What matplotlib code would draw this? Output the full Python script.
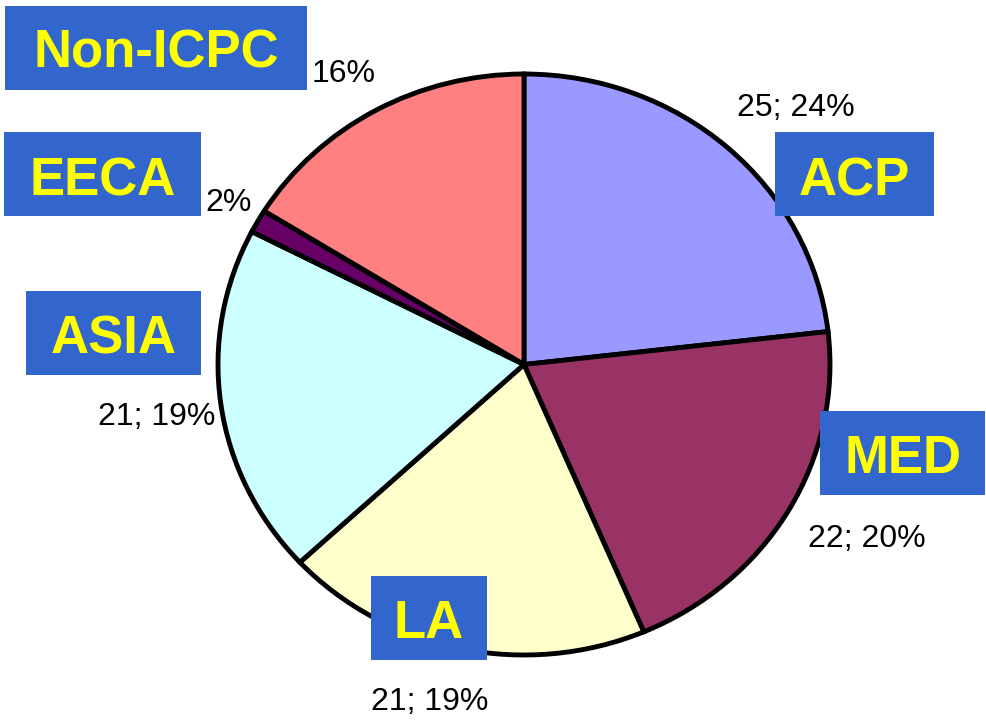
"""Pie chart of participants by region (ICPC groups)."""

import matplotlib

matplotlib.use("Agg")
import matplotlib.pyplot as plt
from matplotlib.patches import Rectangle

# data, clockwise from 12 o'clock
regions = ["ACP", "MED", "LA", "ASIA", "EECA", "Non-ICPC"]
values = [25, 22, 21, 21, 1.4, 17.4]
value_labels = ["25; 24%", "22; 20%", "21; 19%", "21; 19%", "2%", "16%"]
colors = ["#9999FF", "#993366", "#FFFFCC", "#CCFFFF", "#660066", "#FF8080"]

# layout in pixels (top-left origin)
W, H = 987, 720
CX, CY, RX, RY = 524, 364.5, 306, 290.5
# region boxes: (x0, y0, x1, y1, text baseline)
boxes = [
    (775, 132, 934, 216, 195),
    (820, 411, 985, 495, 473),
    (371, 576, 487, 660, 638),
    (26, 291, 201, 375, 353),
    (4, 132, 201, 216, 195),
    (5, 6, 307, 90, 68),
]
# value labels: (center x, baseline y)
label_pos = [(795.5, 116), (867, 547), (429.5, 710), (156.5, 425), (228.5, 211), (344, 82)]

BOX_COLOR = "#3366CC"
TEXT_COLOR = "#FFFF00"

fig = plt.figure(figsize=(W / 100, H / 100), dpi=100)

# pie axes: unit radius, stretched to RX x RY pixels
ax = fig.add_axes([0, 0, 1, 1])
ax.pie(
    values,
    colors=colors,
    startangle=90,
    counterclock=False,
    radius=1,
    wedgeprops={"edgecolor": "black", "linewidth": 3.5},
)
ax.set_aspect("auto")
ax.set_xlim(-CX / RX, (W - CX) / RX)
ax.set_ylim(-(H - CY) / RY, CY / RY)
ax.axis("off")

# overlay axes in pixel coordinates for boxes and labels
ov = fig.add_axes([0, 0, 1, 1])
ov.set_xlim(0, W)
ov.set_ylim(H, 0)
ov.axis("off")
ov.patch.set_alpha(0)

for name, (x0, y0, x1, y1, base) in zip(regions, boxes):
    ov.add_patch(Rectangle((x0, y0), x1 - x0, y1 - y0, facecolor=BOX_COLOR, edgecolor="none"))
    ov.text(
        (x0 + x1) / 2, base, name,
        ha="center", va="baseline",
        fontsize=38, fontweight="bold", color=TEXT_COLOR,
        family=["Liberation Sans", "DejaVu Sans"],
    )

for text, (x, y) in zip(value_labels, label_pos):
    ov.text(
        x, y, text,
        ha="center", va="baseline",
        fontsize=23, color="black",
        family=["Liberation Sans", "DejaVu Sans"],
    )

fig.savefig("out.png", dpi=100)
